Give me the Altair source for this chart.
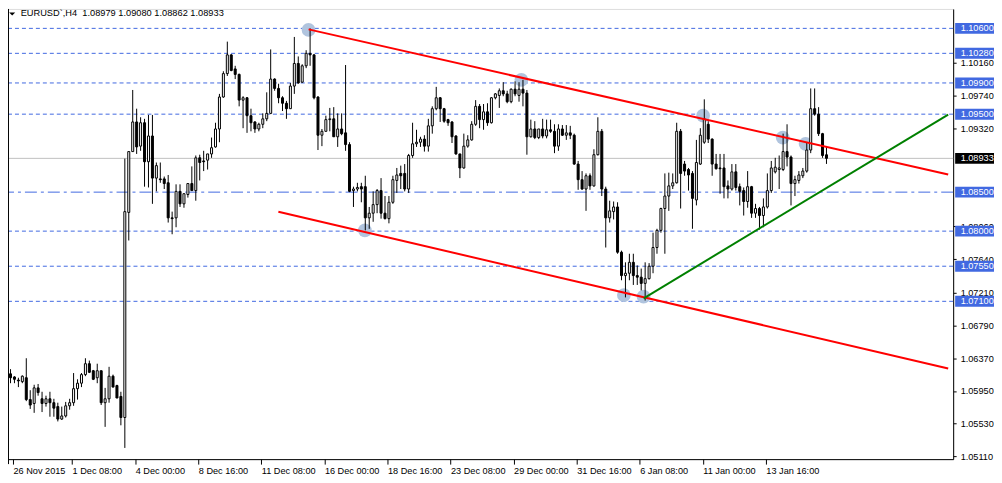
import altair as alt
import pandas as pd

# ---------------- data ----------------
opens = [1.0617, 1.0613, 1.0609, 1.0607, 1.0612, 1.0584, 1.0579, 1.0599, 1.0585, 1.0579,
         1.0585, 1.0580, 1.0575, 1.0559, 1.0563, 1.0576, 1.0580, 1.0598, 1.0605, 1.0616,
         1.0630, 1.0621, 1.0612, 1.0621, 1.0580, 1.0585, 1.0614, 1.0602, 1.0588, 1.0561,
         1.0824, 1.0902, 1.0940, 1.0909, 1.0939, 1.0889, 1.0922, 1.0868, 1.0867, 1.0867,
         1.0862, 1.0817, 1.0817, 1.0851, 1.0835, 1.0847, 1.0861, 1.0852, 1.0894, 1.0890,
         1.0891, 1.0899, 1.0908, 1.0931, 1.0972, 1.1002, 1.1026, 1.1008, 1.1001, 1.0968,
         1.0971, 1.0948, 1.0940, 1.0931, 1.0937, 1.0944, 1.0951, 1.0995, 1.0983, 1.0971,
         1.0964, 1.0957, 1.0986, 1.1015, 1.0991, 1.1012, 1.1028, 1.1026, 1.0972, 1.0923,
         1.0928, 1.0943, 1.0944, 1.0921, 1.0931, 1.0926, 1.0911, 1.0852, 1.0854, 1.0857,
         1.0857, 1.0817, 1.0823, 1.0834, 1.0852, 1.0823, 1.0816, 1.0837, 1.0865, 1.0874,
         1.0874, 1.0854, 1.0897, 1.0912, 1.0914, 1.0918, 1.0909, 1.0935, 1.0957, 1.0971,
         1.0957, 1.0943, 1.0940, 1.0922, 1.0899, 1.0881, 1.0909, 1.0917, 1.0937, 1.0960,
         1.0943, 1.0953, 1.0939, 1.0971, 1.0974, 1.0980, 1.0976, 1.0966, 1.0982, 1.0974,
         1.0982, 1.0977, 1.0921, 1.0931, 1.0920, 1.0931, 1.0922, 1.0930, 1.0928, 1.0909,
         1.0931, 1.0923, 1.0926, 1.0923, 1.0886, 1.0866, 1.0854, 1.0871, 1.0858, 1.0898,
         1.0928, 1.0854, 1.0817, 1.0825, 1.0831, 1.0773, 1.0743, 1.0746, 1.0760, 1.0743,
         1.0741, 1.0733, 1.0739, 1.0755, 1.0779, 1.0801, 1.0829, 1.0845, 1.0858, 1.0862,
         1.0928, 1.0886, 1.0879, 1.0874, 1.0840, 1.0886, 1.0914, 1.0937, 1.0918, 1.0886,
         1.0881, 1.0881, 1.0858, 1.0854, 1.0876, 1.0857, 1.0852, 1.0838, 1.0857, 1.0823,
         1.0829, 1.0820, 1.0831, 1.0852, 1.0876, 1.0879, 1.0879, 1.0902, 1.0895, 1.0861,
         1.0865, 1.0871, 1.0877, 1.0904, 1.0957, 1.0950, 1.0925, 1.08979]

highs = [1.0623, 1.0614, 1.0612, 1.0615, 1.0637, 1.0596, 1.0603, 1.0604, 1.0594, 1.0589,
         1.0594, 1.0585, 1.0580, 1.0575, 1.0581, 1.0585, 1.0618, 1.0610, 1.0618, 1.0637,
         1.0634, 1.0622, 1.0630, 1.0621, 1.0599, 1.0626, 1.0616, 1.0603, 1.0594, 1.0893,
         1.0902, 1.0981, 1.0957, 1.0946, 1.0944, 1.0949, 1.0949, 1.0888, 1.0888, 1.0870,
         1.0872, 1.0825, 1.0860, 1.0860, 1.0848, 1.0861, 1.0883, 1.0897, 1.0898, 1.0903,
         1.0899, 1.0920, 1.0939, 1.0976, 1.1005, 1.1043, 1.1027, 1.1012, 1.1002, 1.0973,
         1.0972, 1.0957, 1.0941, 1.0939, 1.0951, 1.0978, 1.1033, 1.0996, 1.0989, 1.0973,
         1.0967, 1.0990, 1.1049, 1.1024, 1.1014, 1.1032, 1.1060, 1.1027, 1.0973, 1.0931,
         1.0948, 1.0958, 1.0959, 1.0951, 1.0951, 1.1013, 1.0914, 1.0857, 1.0862, 1.0862,
         1.0871, 1.0831, 1.0851, 1.0854, 1.0868, 1.0845, 1.0845, 1.0871, 1.0881, 1.0884,
         1.0886, 1.0899, 1.0939, 1.0930, 1.0921, 1.0923, 1.0944, 1.0960, 1.0985, 1.0972,
         1.0958, 1.0944, 1.0941, 1.0923, 1.0899, 1.0925, 1.0923, 1.0941, 1.0968, 1.0963,
         1.0963, 1.0964, 1.0972, 1.0977, 1.0983, 1.0991, 1.0980, 1.0983, 1.0992, 1.0991,
         1.0994, 1.0981, 1.0943, 1.0941, 1.0931, 1.0944, 1.0943, 1.0943, 1.0937, 1.0937,
         1.0936, 1.0936, 1.0935, 1.0925, 1.0890, 1.0877, 1.0874, 1.0874, 1.0905, 1.0946,
         1.0931, 1.0857, 1.0839, 1.0838, 1.0837, 1.0775, 1.0760, 1.0771, 1.0771, 1.0756,
         1.0752, 1.0760, 1.0759, 1.0798, 1.0803, 1.0830, 1.0874, 1.0875, 1.0874, 1.0939,
         1.0931, 1.0890, 1.0881, 1.0877, 1.0917, 1.0932, 1.0969, 1.0941, 1.0919, 1.0899,
         1.0899, 1.0899, 1.0865, 1.0886, 1.0886, 1.0861, 1.0856, 1.0877, 1.0858, 1.0835,
         1.0831, 1.0842, 1.0874, 1.0890, 1.0894, 1.0897, 1.0925, 1.0937, 1.0897, 1.0871,
         1.0877, 1.0881, 1.0913, 1.0983, 1.0983, 1.0959, 1.0926, 1.09080]

lows = [1.0605, 1.0605, 1.0600, 1.0605, 1.0582, 1.0572, 1.0567, 1.0589, 1.0568, 1.0575,
        1.0562, 1.0562, 1.0556, 1.0558, 1.0561, 1.0571, 1.0576, 1.0584, 1.0600, 1.0614,
        1.0618, 1.0609, 1.0605, 1.0577, 1.0549, 1.0580, 1.0600, 1.0586, 1.0551, 1.0522,
        1.0788, 1.0902, 1.0899, 1.0903, 1.0857, 1.0856, 1.0835, 1.0851, 1.0862, 1.0854,
        1.0811, 1.0796, 1.0805, 1.0831, 1.0830, 1.0843, 1.0852, 1.0839, 1.0865, 1.0877,
        1.0879, 1.0894, 1.0907, 1.0914, 1.0971, 1.0999, 1.1005, 1.0995, 1.0960, 1.0932,
        1.0926, 1.0928, 1.0926, 1.0928, 1.0932, 1.0941, 1.0950, 1.0980, 1.0964, 1.0954,
        1.0944, 1.0957, 1.0976, 1.0989, 1.0990, 1.1009, 1.1012, 1.0969, 1.0904, 1.0909,
        1.0928, 1.0928, 1.0921, 1.0908, 1.0923, 1.0903, 1.0850, 1.0831, 1.0851, 1.0837,
        1.0801, 1.0803, 1.0812, 1.0823, 1.0816, 1.0815, 1.0810, 1.0835, 1.0849, 1.0854,
        1.0851, 1.0849, 1.0894, 1.0908, 1.0908, 1.0902, 1.0902, 1.0925, 1.0955, 1.0940,
        1.0939, 1.0935, 1.0913, 1.0898, 1.0868, 1.0880, 1.0907, 1.0916, 1.0935, 1.0932,
        1.0930, 1.0935, 1.0938, 1.0969, 1.0958, 1.0973, 1.0964, 1.0964, 1.0973, 1.0966,
        1.0960, 1.0898, 1.0920, 1.0918, 1.0918, 1.0919, 1.0919, 1.0926, 1.0900, 1.0903,
        1.0922, 1.0917, 1.0918, 1.0885, 1.0853, 1.0853, 1.0826, 1.0853, 1.0857, 1.0897,
        1.0845, 1.0779, 1.0811, 1.0815, 1.0771, 1.0737, 1.0715, 1.0737, 1.0731, 1.0731,
        1.0724, 1.0711, 1.0738, 1.0746, 1.0771, 1.0798, 1.0771, 1.0826, 1.0854, 1.0861,
        1.0829, 1.0871, 1.0852, 1.0803, 1.0833, 1.0885, 1.0912, 1.0913, 1.0871, 1.0879,
        1.0848, 1.0842, 1.0842, 1.0852, 1.0852, 1.0833, 1.0820, 1.0830, 1.0817, 1.0817,
        1.0802, 1.0805, 1.0829, 1.0849, 1.0874, 1.0854, 1.0877, 1.0883, 1.0833, 1.0845,
        1.0861, 1.0868, 1.0875, 1.0900, 1.0948, 1.0922, 1.0894, 1.08862]

closes = [1.0612, 1.0610, 1.0608, 1.0614, 1.0584, 1.0577, 1.0599, 1.0593, 1.0579, 1.0585,
          1.0580, 1.0573, 1.0559, 1.0563, 1.0576, 1.0580, 1.0598, 1.0605, 1.0616, 1.0630,
          1.0619, 1.0610, 1.0621, 1.0580, 1.0585, 1.0614, 1.0600, 1.0586, 1.0561, 1.0825,
          1.0902, 1.0940, 1.0908, 1.0939, 1.0889, 1.0922, 1.0868, 1.0884, 1.0866, 1.0861,
          1.0817, 1.0816, 1.0851, 1.0835, 1.0848, 1.0861, 1.0852, 1.0894, 1.0888, 1.0889,
          1.0899, 1.0907, 1.0931, 1.0972, 1.1002, 1.1026, 1.1006, 1.1001, 1.0968, 1.0971,
          1.0948, 1.0939, 1.0931, 1.0937, 1.0944, 1.0951, 1.0995, 1.0983, 1.0971, 1.0964,
          1.0957, 1.0986, 1.1015, 1.0990, 1.1012, 1.1028, 1.1026, 1.0971, 1.0923, 1.0928,
          1.0943, 1.0944, 1.0921, 1.0931, 1.0925, 1.0911, 1.0851, 1.0854, 1.0856, 1.0854,
          1.0817, 1.0823, 1.0834, 1.0852, 1.0823, 1.0816, 1.0837, 1.0866, 1.0872, 1.0871,
          1.0854, 1.0897, 1.0912, 1.0914, 1.0918, 1.0909, 1.0935, 1.0957, 1.0971, 1.0957,
          1.0941, 1.0939, 1.0921, 1.0899, 1.0881, 1.0909, 1.0917, 1.0937, 1.0960, 1.0943,
          1.0953, 1.0939, 1.0971, 1.0976, 1.0980, 1.0976, 1.0966, 1.0982, 1.0976, 1.0982,
          1.0977, 1.0921, 1.0931, 1.0920, 1.0931, 1.0922, 1.0930, 1.0928, 1.0909, 1.0931,
          1.0923, 1.0926, 1.0923, 1.0886, 1.0866, 1.0854, 1.0871, 1.0858, 1.0898, 1.0928,
          1.0854, 1.0817, 1.0826, 1.0831, 1.0773, 1.0743, 1.0746, 1.0760, 1.0743, 1.0741,
          1.0733, 1.0739, 1.0755, 1.0779, 1.0801, 1.0829, 1.0845, 1.0858, 1.0862, 1.0928,
          1.0874, 1.0877, 1.0872, 1.0842, 1.0888, 1.0923, 1.0944, 1.0918, 1.0886, 1.0880,
          1.0880, 1.0857, 1.0854, 1.0876, 1.0856, 1.0851, 1.0838, 1.0857, 1.0823, 1.0829,
          1.0820, 1.0831, 1.0852, 1.0881, 1.0882, 1.0881, 1.0902, 1.0895, 1.0861, 1.0866,
          1.0872, 1.0877, 1.0904, 1.0957, 1.0950, 1.0925, 1.0897, 1.08933]

blue_levels = [1.10600, 1.10280, 1.09900, 1.09500, 1.08000, 1.07550, 1.07100]
dashdot_levels = [1.08500]
last_price = [1.08933]
tag_prices = [1.10600, 1.10280, 1.09900, 1.09500, 1.08500, 1.08000, 1.07550, 1.07100]
axis_prices = [1.10160, 1.09740, 1.09320, 1.08060, 1.07640, 1.07210,
               1.06790, 1.06370, 1.05950, 1.05530, 1.05110]
time_labels = ["26 Nov 2015", "1 Dec 08:00", "4 Dec 00:00", "8 Dec 16:00", "11 Dec 08:00",
               "16 Dec 00:00", "18 Dec 16:00", "23 Dec 08:00", "29 Dec 00:00",
               "31 Dec 16:00", "6 Jan 08:00", "11 Jan 00:00", "13 Jan 16:00"]
time_label_bars = [0.625, 15.625, 31.625, 47.625, 63.625, 79.625, 95.625, 111.625,
                   127.625, 143.625, 159.625, 175.625, 191.625]

red_names = ["upper", "upper", "lower", "lower"]
red_bars = [75.625, 237.875, 67.95, 237.875]
red_prices = [1.10587, 1.08726, 1.08248, 1.06239]
green_bars = [160.625, 237.875]
green_prices = [1.07139, 1.09494]

touch_bars = [75.6, 89.9, 129.6, 155.6, 160.6, 175.7, 195.9, 201.7]
touch_prices = [1.1058, 1.0801, 1.0994, 1.0718, 1.0716, 1.0948, 1.0920, 1.0912]

title_text = "EURUSD`,H4\u00a0 1.08979 1.09080 1.08862 1.08933"

# ---------------- tables ----------------
candles = pd.DataFrame({
    "i": list(range(len(opens))),
    "o": opens, "h": highs, "l": lows, "c": closes,
})
candles["dir"] = ["up" if c >= o else "down" for o, c in zip(opens, closes)]

FONT = "Liberation Sans"
FS = 9.2
BLUE = "#4169e1"

xscale = alt.Scale(domain=[0.625, 237.875], nice=False, zero=False)
yscale = alt.Scale(domain=[1.0507637, 1.1084904], nice=False, zero=False)

label_js = "[" + ",".join("'%s'" % s for s in time_labels[1:]) + "]"
xaxis = alt.Axis(
    values=time_label_bars, title=None, grid=False,
    labelExpr="datum.value < 1 ? '%s' : %s[round((datum.value - %s) / 16)]"
              % (time_labels[0], label_js, time_label_bars[1]),
    labelAlign="left", labelBaseline="top", labelFlush=False, labelOverlap=False,
    labelFont=FONT, labelFontSize=FS, labelColor="black", labelPadding=2,
    tickSize=5, tickColor="black", domainColor="black",
)
yaxis = alt.Axis(
    orient="right", values=axis_prices, format=".5f", title=None, grid=False,
    labelFont=FONT, labelFontSize=FS, labelColor="black", labelPadding=4,
    labelOverlap=False, labelFlush=False,
    tickSize=3, tickColor="black", domainColor="black",
)


def X(field):
    return alt.X(field, scale=xscale, axis=xaxis)


def Y(field):
    return alt.Y(field, scale=yscale, axis=yaxis)


hl_blue = alt.Chart(pd.DataFrame({"p": blue_levels})).mark_rule(
    color=BLUE, strokeWidth=1, strokeDash=[4, 3]
).encode(y=Y("p:Q"))

hl_dd = alt.Chart(pd.DataFrame({"p": dashdot_levels})).mark_rule(
    color=BLUE, strokeWidth=1, strokeDash=[12, 4, 3, 4]
).encode(y=Y("p:Q"))

hl_last = alt.Chart(pd.DataFrame({"p": last_price})).mark_rule(
    color="#c0c0c0", strokeWidth=1
).encode(y=Y("p:Q"))

touches = alt.Chart(pd.DataFrame({"i": touch_bars, "p": touch_prices})).mark_point(
    shape="circle", filled=True, size=190, color="#b0c4de", opacity=1, strokeWidth=0
).encode(x=X("i:Q"), y=Y("p:Q"))

wicks = alt.Chart(candles).mark_rule(color="black", strokeWidth=1, clip=True).encode(
    x=X("i:Q"), y=Y("l:Q"), y2="h:Q",
)

bodies = alt.Chart(candles).mark_bar(size=2, stroke="black", strokeWidth=1, clip=True).encode(
    x=X("i:Q"), y=Y("o:Q"), y2="c:Q",
    fill=alt.Fill("dir:N", scale=alt.Scale(domain=["up", "down"], range=["white", "black"]),
                  legend=None),
)

red_lines = alt.Chart(pd.DataFrame({"name": red_names, "i": red_bars, "p": red_prices})).mark_line(
    color="#ff0000", strokeWidth=2, clip=True
).encode(x=X("i:Q"), y=Y("p:Q"), detail="name:N")

green_line = alt.Chart(pd.DataFrame({"i": green_bars, "p": green_prices})).mark_line(
    color="#008000", strokeWidth=2, clip=True
).encode(x=X("i:Q"), y=Y("p:Q"))

BOX = "M-1,-0.282L1,-0.282L1,0.282L-1,0.282Z"
tag_df = pd.DataFrame({"p": tag_prices, "t": ["%.5f" % v for v in tag_prices]})
last_df = pd.DataFrame({"p": last_price, "t": ["%.5f" % v for v in last_price]})

tag_boxes = alt.Chart(tag_df).mark_point(
    shape=BOX, size=1521, filled=True, color=BLUE, opacity=1, strokeWidth=0
).encode(x=alt.value(970.5), y=Y("p:Q"))
last_box = alt.Chart(last_df).mark_point(
    shape=BOX, size=1521, filled=True, color="black", opacity=1, strokeWidth=0
).encode(x=alt.value(970.5), y=Y("p:Q"))
tag_text = alt.Chart(pd.concat([tag_df, last_df])).mark_text(
    align="left", baseline="middle", font=FONT, fontSize=FS, color="white"
).encode(x=alt.value(956.5), y=Y("p:Q"), text="t:N")

title = alt.Chart(pd.DataFrame({"t": [title_text]})).mark_text(
    align="left", baseline="middle", font=FONT, fontSize=9.3, color="black"
).encode(x=alt.value(12.7), y=alt.value(4.5), text="t:N")

tri = alt.Chart(pd.DataFrame({"t": ["menu"]})).mark_point(
    shape="M-1,-0.5L1,-0.5L0,0.5Z", size=36, filled=True, color="black", opacity=1, strokeWidth=0
).encode(x=alt.value(4.2), y=alt.value(5))

left_border = alt.Chart(pd.DataFrame({"t": ["border"]})).mark_rule(
    color="black", strokeWidth=1
).encode(x=alt.value(0.5), y=alt.value(0), y2=alt.value(457))

chart = alt.layer(
    hl_blue, hl_dd, hl_last, touches, wicks, bodies, red_lines, green_line,
    tag_boxes, last_box, tag_text, title, tri, left_border,
).properties(
    width=949, height=452,
    autosize=alt.AutoSizeParams(type="none"),
    padding={"left": 0, "top": 0, "right": 41, "bottom": 20},
).configure_view(strokeOpacity=0).configure(background="white")

chart.save("out.html", embed_options={"renderer": "svg", "actions": False})
